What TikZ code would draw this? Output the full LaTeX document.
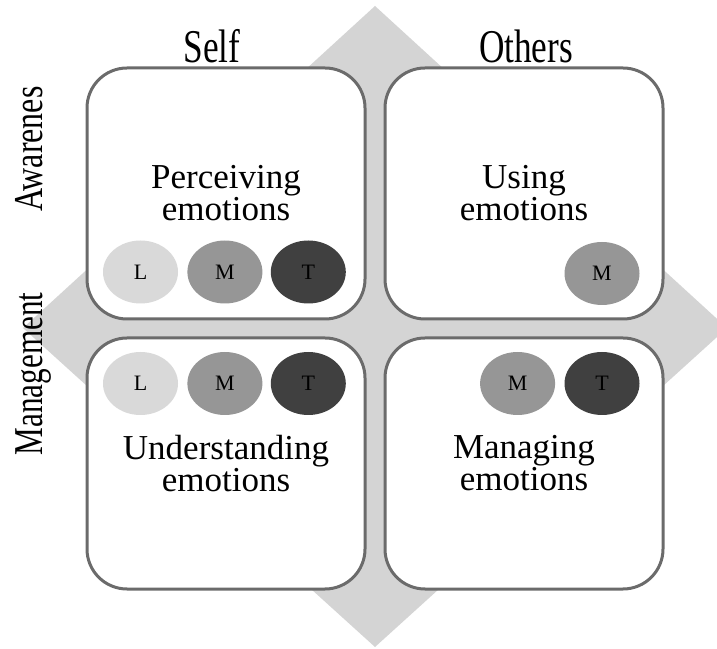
\documentclass[tikz,border=0pt]{standalone}
\usepackage{fontspec}
\setmainfont{Liberation Serif}
\usetikzlibrary{positioning}
\usetikzlibrary{shapes.geometric}
\definecolor{diamondGray}{HTML}{D4D4D4}
\definecolor{borderGray}{HTML}{6B6B6B}
\definecolor{lowGray}{HTML}{D9D9D9}
\definecolor{midGray}{HTML}{969696}
\definecolor{topGray}{HTML}{404040}
\tikzset{%
	% Specifications for style of nodes:
	quadrant/.style = {rectangle, rounded corners=40pt, draw=borderGray, line width=3pt, fill=white,
		minimum width=278pt, minimum height=251pt,
		align=center, font=\fontsize{35pt}{32pt}\selectfont},
	level/.style = {ellipse, minimum width=75pt, minimum height=63pt, inner sep=0pt,
		font=\fontsize{22pt}{24pt}\selectfont},
	lowLevel/.style = {level, fill=lowGray},
	midLevel/.style = {level, fill=midGray},
	topLevel/.style = {level, fill=topGray},
	axisLabel/.style = {anchor=base, inner sep=0pt, font=\fontsize{47pt}{50pt}\selectfont},
	sideLabel/.style = {axisLabel, rotate=90, font=\fontsize{41pt}{44pt}\selectfont}
}
\begin{document}
\begin{tikzpicture}[x=1pt, y=1pt]
		\clip (0,0) rectangle (717,648);
		\fill[diamondGray] (375,642) -- (727,320) -- (375,1) -- (23,320) -- cycle;
		%% Quadrants
		\node [quadrant] (perceiving) at (226,454.5) {Perceiving\\emotions};
		\node [quadrant] (using) at (524,454.5) {Using\\emotions};
		\node [quadrant] (understanding) at (226,184.5) {Understanding\\emotions};
		\node [quadrant] (managing) at (524,184.5) {Managing\\emotions};
		%% Levels
		\node [lowLevel] (percL) at (140.5,376) {L};
		\node [midLevel, right=9pt of percL] (percM) {M};
		\node [topLevel, right=8pt of percM] (percT) {T};
		\node [midLevel] (useM) at (602,374.5) {M};
		\node [lowLevel] (undL) at (140.5,264.5) {L};
		\node [midLevel, right=9pt of undL] (undM) {M};
		\node [topLevel, right=8pt of undM] (undT) {T};
		\node [topLevel] (manT) at (602,264.5) {T};
		\node [midLevel, left=9pt of manT] (manM) {M};
		%% Axis labels
		\node [axisLabel] (self) at (212,585) {\scalebox{.75}[1]{Self}};
		\node [axisLabel] (others) at (526,585) {\scalebox{.75}[1]{Others}};
		\node [sideLabel] (awareness) at (42,499) {\scalebox{.78}[1]{Awarenes}};
		\node [sideLabel] (management) at (42,274) {\scalebox{.76}[1]{Management}};
	\end{tikzpicture}
\end{document}
